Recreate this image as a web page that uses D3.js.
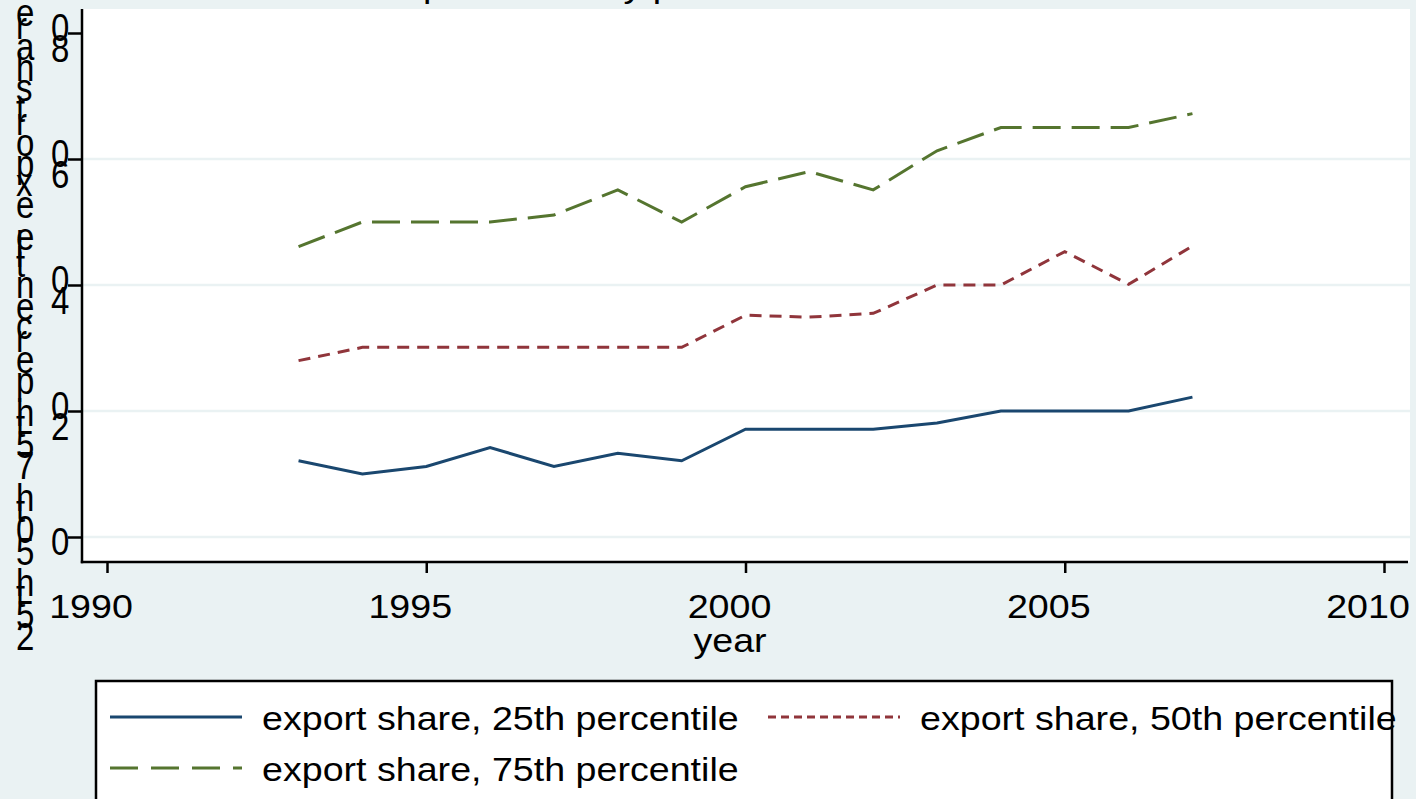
<!DOCTYPE html>
<html>
<head>
<meta charset="utf-8">
<script src="https://cdn.jsdelivr.net/npm/d3@7"></script>
<style>
  html, body { margin: 0; padding: 0; background: #eaf2f3; }
  svg { display: block; }
  text { font-family: "Liberation Sans", Arial, Helvetica, sans-serif; fill: #000; }
</style>
</head>
<body>
<svg id="chart" width="1416" height="799"></svg>
<script>
// ---- data ----
const years = [1993, 1994, 1995, 1996, 1997, 1998, 1999, 2000, 2001, 2002, 2003, 2004, 2005, 2006, 2007];
const p25 = [12.1, 10.0, 11.2, 14.2, 11.2, 13.3, 12.1, 17.1, 17.1, 17.1, 18.1, 20.0, 20.0, 20.0, 22.2];
const p50 = [28.0, 30.1, 30.1, 30.1, 30.1, 30.1, 30.1, 35.2, 34.9, 35.5, 40.0, 40.0, 45.3, 40.1, 46.2];
const p75 = [46.1, 50.0, 50.0, 50.0, 51.1, 55.1, 50.0, 55.6, 58.0, 55.1, 61.3, 65.0, 65.0, 65.0, 67.2];
const seriesLabels = ["export share, 25th percentile", "export share, 50th percentile", "export share, 75th percentile"];
const xTicks = [1990, 1995, 2000, 2005, 2010];
const yTicks = [0, 20, 40, 60, 80];
const yGridTicks = [0, 20, 40, 60];
const yTitle = "25th 50th 75th percentile export share";
const xTitle = "year";
const chartTitle = "Export share by percentile";

// ---- styles ----
const colors = ["#1a476f", "#90353b", "#55752f"];
const plotDash = [null, "12,8", "28,11"];
const legendDash = [null, "8,5", "28,13"];
const BG = "#eaf2f3";
const FONT = 33, SX = 1.14, SY = 1.16;

const svg = d3.select("#chart");
const W = 1416, H = 799;
const plot = { left: 82, right: 1410, top: 9, bottom: 562 };

svg.append("rect").attr("width", W).attr("height", H).attr("fill", BG);
svg.append("rect")
  .attr("x", plot.left).attr("y", plot.top)
  .attr("width", plot.right - plot.left).attr("height", plot.bottom - plot.top)
  .attr("fill", "#fff");

const x = d3.scaleLinear().domain([1990, 2010]).range([107, 1384]);
const y = d3.scaleLinear().domain([0, 80]).range([537, 33]);

// glyph advance measurement for the upright, vertically stacked labels
const ctx = document.createElement("canvas").getContext("2d");
ctx.font = `${FONT}px "Liberation Sans", Arial, sans-serif`;
const adv = ch => ctx.measureText(ch).width * SY;
const stackLength = s => Array.from(s).reduce((a, c) => a + adv(c), 0);

// characters placed upright, running from bottom to top
function stackUp(g, str, xPos, bottom) {
  let cur = bottom;
  for (const ch of Array.from(str)) {
    if (ch.trim()) {
      g.append("text")
        .attr("transform", `translate(${xPos},${cur + 0.2 * FONT * SY}) scale(1,${SY})`)
        .attr("font-size", FONT)
        .text(ch);
    }
    cur -= adv(ch);
  }
}

function hText(g, str, xPos, yPos, anchor) {
  return g.append("text")
    .attr("transform", `translate(${xPos},${yPos}) scale(${SX},1)`)
    .attr("text-anchor", anchor)
    .attr("font-size", FONT)
    .text(str);
}

// title (runs above the top edge)
hText(svg, chartTitle, 379, -3, "start");

// gridlines
svg.append("g").selectAll("line").data(yGridTicks).join("line")
  .attr("x1", plot.left).attr("x2", plot.right)
  .attr("y1", d => y(d)).attr("y2", d => y(d))
  .attr("stroke", BG).attr("stroke-width", 2.5);

// series lines
const line = d3.line().x((d, i) => x(years[i])).y(d => y(d));
[p25, p50, p75].forEach((vals, k) => {
  svg.append("path")
    .datum(vals)
    .attr("d", line)
    .attr("fill", "none")
    .attr("stroke", colors[k])
    .attr("stroke-width", 3)
    .attr("stroke-dasharray", plotDash[k])
    .attr("stroke-linejoin", "miter");
});

// x axis
const xAxis = svg.append("g")
  .attr("transform", `translate(0,${plot.bottom})`)
  .call(d3.axisBottom(x).tickValues(xTicks).tickSize(11).tickSizeOuter(0).tickFormat(""));
xAxis.select(".domain").remove();
xAxis.selectAll(".tick line").attr("stroke", "#000").attr("stroke-width", 2.5);
const xLab = svg.append("g");
xTicks.forEach(t => hText(xLab, String(t), x(t) - 16, 618, "middle"));
hText(svg, xTitle, (plot.left + plot.right) / 2 - 16, 652, "middle");

// y axis
const yAxis = svg.append("g")
  .attr("transform", `translate(${plot.left},0)`)
  .call(d3.axisLeft(y).tickValues(yTicks).tickSize(14).tickSizeOuter(0).tickFormat(""));
yAxis.select(".domain").remove();
yAxis.selectAll(".tick line").attr("stroke", "#000").attr("stroke-width", 2.5);
const yLab = svg.append("g");
yTicks.forEach(t => {
  const s = String(t);
  stackUp(yLab, s, 51, y(t) + stackLength(s) / 2);
});
stackUp(svg.append("g"), yTitle, 16, 642);

// axis lines
svg.append("line").attr("x1", plot.left).attr("x2", plot.left)
  .attr("y1", plot.top).attr("y2", plot.bottom + 1.2)
  .attr("stroke", "#000").attr("stroke-width", 2.5);
svg.append("line").attr("x1", plot.left - 1.2).attr("x2", plot.right - 2)
  .attr("y1", plot.bottom).attr("y2", plot.bottom)
  .attr("stroke", "#000").attr("stroke-width", 2.5);

// legend
const lg = svg.append("g");
lg.append("rect").attr("x", 96).attr("y", 681).attr("width", 1296).attr("height", 200)
  .attr("fill", "#fff").attr("stroke", "#000").attr("stroke-width", 2.5);
const legendItems = [
  { k: 0, lx: 110, tx: 262, row: 717 },
  { k: 1, lx: 768, tx: 920, row: 717 },
  { k: 2, lx: 110, tx: 262, row: 768 }
];
legendItems.forEach(it => {
  lg.append("line")
    .attr("x1", it.lx).attr("x2", it.lx + 132)
    .attr("y1", it.row).attr("y2", it.row)
    .attr("stroke", colors[it.k]).attr("stroke-width", 3)
    .attr("stroke-dasharray", legendDash[it.k]);
  hText(lg, seriesLabels[it.k], it.tx, it.row + 13, "start");
});
</script>
</body>
</html>
